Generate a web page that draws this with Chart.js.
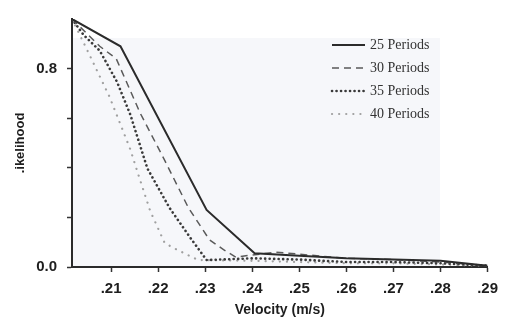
<!DOCTYPE html>
<html lang="en">
<head>
  <meta charset="UTF-8">
  <title>Likelihood vs Velocity</title>
  <style>
    html, body {
      margin: 0;
      padding: 0;
      background: #ffffff;
    }
    #wrap {
      width: 506px;
      height: 321px;
    }
  </style>
</head>
<body>
  <div id="wrap"><canvas id="chart" width="506" height="321"></canvas></div>

  <script src="https://cdn.jsdelivr.net/npm/chart.js"></script>
  <script>
    // series labels
    const seriesNames = ['25 Periods', '30 Periods', '35 Periods', '40 Periods'];

    // velocity (m/s) and likelihood for each run length
    const vel25 = [0.2017, 0.2120, 0.2303, 0.2405, 0.25, 0.26, 0.27, 0.28, 0.29];
    const lik25 = [1.0, 0.89, 0.23, 0.055, 0.045, 0.035, 0.03, 0.025, 0.005];

    const vel30 = [0.2017, 0.2076, 0.2111, 0.2162, 0.2214, 0.2264, 0.2309, 0.2339, 0.2365, 0.245, 0.26, 0.27, 0.28, 0.29];
    const lik30 = [1.0, 0.89, 0.84, 0.62, 0.43, 0.24, 0.11, 0.07, 0.04, 0.06, 0.035, 0.03, 0.02, 0.005];

    const vel35 = [0.2017, 0.2042, 0.2076, 0.2113, 0.2141, 0.2177, 0.2224, 0.2268, 0.2303, 0.24, 0.25, 0.26, 0.27, 0.28, 0.29];
    const lik35 = [1.0, 0.935, 0.872, 0.745, 0.614, 0.398, 0.239, 0.119, 0.028, 0.035, 0.03, 0.02, 0.02, 0.015, 0.005];

    const vel40 = [0.2017, 0.2052, 0.2097, 0.2141, 0.2157, 0.2183, 0.2214, 0.2242, 0.2285, 0.24, 0.25, 0.26, 0.27, 0.28, 0.29];
    const lik40 = [1.0, 0.864, 0.685, 0.474, 0.378, 0.227, 0.096, 0.068, 0.028, 0.025, 0.02, 0.015, 0.015, 0.01, 0.005];

    // axis ticks
    const xTicks = [0.21, 0.22, 0.23, 0.24, 0.25, 0.26, 0.27, 0.28, 0.29];
    const xTickLabels = ['.21', '.22', '.23', '.24', '.25', '.26', '.27', '.28', '.29'];
    const yTicks = [0, 0.2, 0.4, 0.6, 0.8];
    const yTickLabels = ['0.0', '', '', '', '0.8'];

    function points(xs, ys) {
      return xs.map((x, i) => ({ x: x, y: ys[i] }));
    }

    const lineStyles = [
      { color: '#2b2b2b', width: 2,   dash: [],       cap: 'butt' },
      { color: '#5a5a5a', width: 1.5, dash: [7, 5],   cap: 'butt' },
      { color: '#3a3a3a', width: 2.6, dash: [0.1, 4.4], cap: 'round' },
      { color: '#a0a0a0', width: 2.2, dash: [0.1, 7], cap: 'round' }
    ];

    const allData = [points(vel25, lik25), points(vel30, lik30), points(vel35, lik35), points(vel40, lik40)];

    const datasets = seriesNames.map((name, i) => ({
      label: name,
      data: allData[i],
      borderColor: lineStyles[i].color,
      borderWidth: lineStyles[i].width,
      borderDash: lineStyles[i].dash,
      borderCapStyle: lineStyles[i].cap,
      pointRadius: 0,
      tension: 0,
      fill: false
    }));

    // faint tint behind the plot
    const plotTint = {
      id: 'plotTint',
      beforeDraw(chart) {
        const { ctx, chartArea } = chart;
        ctx.save();
        ctx.fillStyle = '#f6f7fa';
        ctx.fillRect(chartArea.left, 38, 440 - chartArea.left, chartArea.bottom - 38);
        ctx.restore();
      }
    };

    // key in the upper right
    const keyBox = {
      id: 'keyBox',
      afterDatasetsDraw(chart) {
        const { ctx } = chart;
        ctx.save();
        chart.data.datasets.forEach((ds, i) => {
          const y = 45 + i * 23;
          ctx.beginPath();
          ctx.strokeStyle = ds.borderColor;
          ctx.lineWidth = ds.borderWidth;
          ctx.lineCap = ds.borderCapStyle;
          ctx.setLineDash(ds.borderDash);
          ctx.moveTo(332, y);
          ctx.lineTo(365, y);
          ctx.stroke();
          ctx.setLineDash([]);
          ctx.fillStyle = '#333333';
          ctx.font = '14px "Liberation Serif"';
          ctx.textBaseline = 'middle';
          ctx.textAlign = 'left';
          ctx.fillText(ds.label, 370, y);
        });
        ctx.restore();
      }
    };

    const tickFont = { family: '"Liberation Sans"', size: 15, weight: 'bold' };

    new Chart(document.getElementById('chart').getContext('2d'), {
      type: 'line',
      data: { datasets: datasets },
      options: {
        responsive: false,
        animation: false,
        layout: { padding: { top: 17, right: 11, left: 0, bottom: 0 } },
        plugins: {
          legend: { display: false },
          tooltip: { enabled: false }
        },
        scales: {
          x: {
            type: 'linear',
            min: 0.2017,
            max: 0.29,
            afterBuildTicks: scale => { scale.ticks = xTicks.map(v => ({ value: v })); },
            afterFit: scale => { scale.height = 54; },
            ticks: {
              autoSkip: false,
              maxRotation: 0,
              padding: 8,
              color: '#1e1e1e',
              font: tickFont,
              callback: (value, index) => xTickLabels[index]
            },
            grid: {
              drawOnChartArea: false,
              drawTicks: true,
              tickLength: 5,
              tickColor: '#333333',
              tickWidth: 1.5
            },
            border: { display: true, color: '#2b2b2b', width: 2 },
            title: {
              display: true,
              text: 'Velocity (m/s)',
              color: '#1e1e1e',
              font: { family: '"Liberation Sans"', size: 14, weight: 'bold' },
              padding: { top: 0, bottom: 2 }
            }
          },
          y: {
            min: 0,
            max: 1,
            afterBuildTicks: scale => { scale.ticks = yTicks.map(v => ({ value: v })); },
            afterFit: scale => { scale.width = 72; },
            ticks: {
              autoSkip: false,
              padding: 10,
              color: '#1e1e1e',
              font: tickFont,
              callback: (value, index) => yTickLabels[index]
            },
            grid: {
              drawOnChartArea: false,
              drawTicks: true,
              tickLength: 5,
              tickColor: '#333333',
              tickWidth: 1.5
            },
            border: { display: true, color: '#2b2b2b', width: 2 },
            title: {
              display: true,
              text: '.ikelihood',
              color: '#1e1e1e',
              font: { family: '"Liberation Sans"', size: 13, weight: 'bold' },
              padding: { top: 13, bottom: 0 }
            }
          }
        }
      },
      plugins: [plotTint, keyBox]
    });
  </script>
</body>
</html>
